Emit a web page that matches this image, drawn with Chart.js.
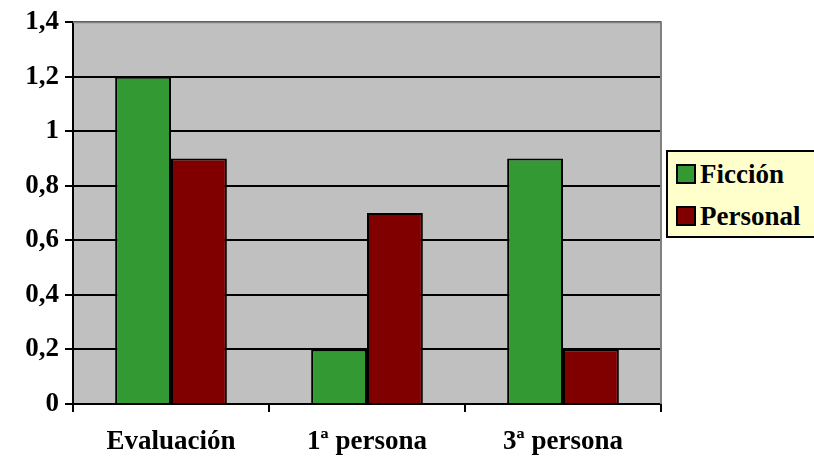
<!DOCTYPE html>
<html>
<head>
<meta charset="utf-8">
<script src="https://cdn.jsdelivr.net/npm/chart.js@4"></script>
<style>
  html, body { margin: 0; padding: 0; background: #ffffff; }
  #wrap { position: relative; width: 814px; height: 464px; }
  #legend {
    position: absolute; left: 666px; top: 150px; width: 160px; height: 88px;
    background: #ffffcc; border: 2px solid #000; box-sizing: border-box;
    font-family: "Liberation Serif", Tinos, "Times New Roman", "DejaVu Serif", serif; font-weight: bold;
    font-size: 27px; color: #000; padding-left: 8px;
  }
  .item { display: flex; align-items: center; height: 42px; }
  .item:first-child { margin-top: 1px; }
  .sw { width: 16px; height: 16px; border: 2px solid #000; margin-right: 4px; }
</style>
</head>
<body>
<div id="wrap">
  <canvas id="c" width="814" height="464"></canvas>
  <div id="legend"></div>
</div>
<script>
const categories = ["Evaluación", "1ª persona", "3ª persona"];
const seriesNames = ["Ficción", "Personal"];
const ficcion = [1.2, 0.2, 0.9];
const personal = [0.9, 0.7, 0.2];
const yTicks = [0, 0.2, 0.4, 0.6, 0.8, 1, 1.2, 1.4];
const colors = ["#339933", "#800000"];

const font = { family: "'Liberation Serif', Tinos, 'Times New Roman', 'DejaVu Serif', serif", weight: "bold", size: 27 };

// Grey plot area with grey top/right border
const plotBg = {
  id: "plotBg",
  beforeDraw(chart) {
    const { ctx, chartArea: a } = chart;
    ctx.save();
    ctx.fillStyle = "#c0c0c0";
    ctx.fillRect(a.left, a.top, a.right - a.left, a.bottom - a.top);
    ctx.restore();
  },
  afterDatasetsDraw(chart) {
    const { ctx, chartArea: a } = chart;
    ctx.save();
    ctx.strokeStyle = "#808080";
    ctx.lineWidth = 2;
    ctx.beginPath();
    ctx.moveTo(a.left, a.top);
    ctx.lineTo(a.right, a.top);
    ctx.lineTo(a.right, a.bottom);
    ctx.stroke();
    ctx.restore();
  }
};

new Chart(document.getElementById("c"), {
  type: "bar",
  data: {
    labels: categories,
    datasets: [
      { label: seriesNames[0], data: ficcion, backgroundColor: colors[0], borderColor: "#000", borderWidth: 2 },
      { label: seriesNames[1], data: personal, backgroundColor: colors[1], borderColor: "#000", borderWidth: 2 }
    ]
  },
  options: {
    responsive: false,
    animation: false,
    layout: { padding: { left: 0, right: 153, top: 11, bottom: 0 } },
    datasets: { bar: { barPercentage: 1.0, categoryPercentage: 0.57 } },
    plugins: { legend: { display: false }, tooltip: { enabled: false } },
    scales: {
      x: {
        grid: { display: true, drawOnChartArea: false, drawTicks: true, tickLength: 8, color: "#000", lineWidth: 2, offset: true },
        border: { display: true, color: "#000", width: 2 },
        ticks: { color: "#000", font: font, padding: 14 },
        afterFit(s) { s.height = 60; }
      },
      y: {
        min: 0, max: 1.4,
        afterBuildTicks(s) { s.ticks = yTicks.map(v => ({ value: v })); },
        grid: { color: "#000", lineWidth: 2, tickLength: 8 },
        border: { display: true, color: "#000", width: 2 },
        ticks: {
          color: "#000", font: font, padding: 6,
          callback: v => String(v).replace(".", ",")
        },
        afterFit(s) { s.width = 73; }
      }
    }
  },
  plugins: [plotBg]
});

// Legend
const lg = document.getElementById("legend");
seriesNames.forEach((n, i) => {
  const d = document.createElement("div");
  d.className = "item";
  d.innerHTML = '<span class="sw" style="background:' + colors[i] + '"></span>' + n;
  lg.appendChild(d);
});
</script>
</body>
</html>
